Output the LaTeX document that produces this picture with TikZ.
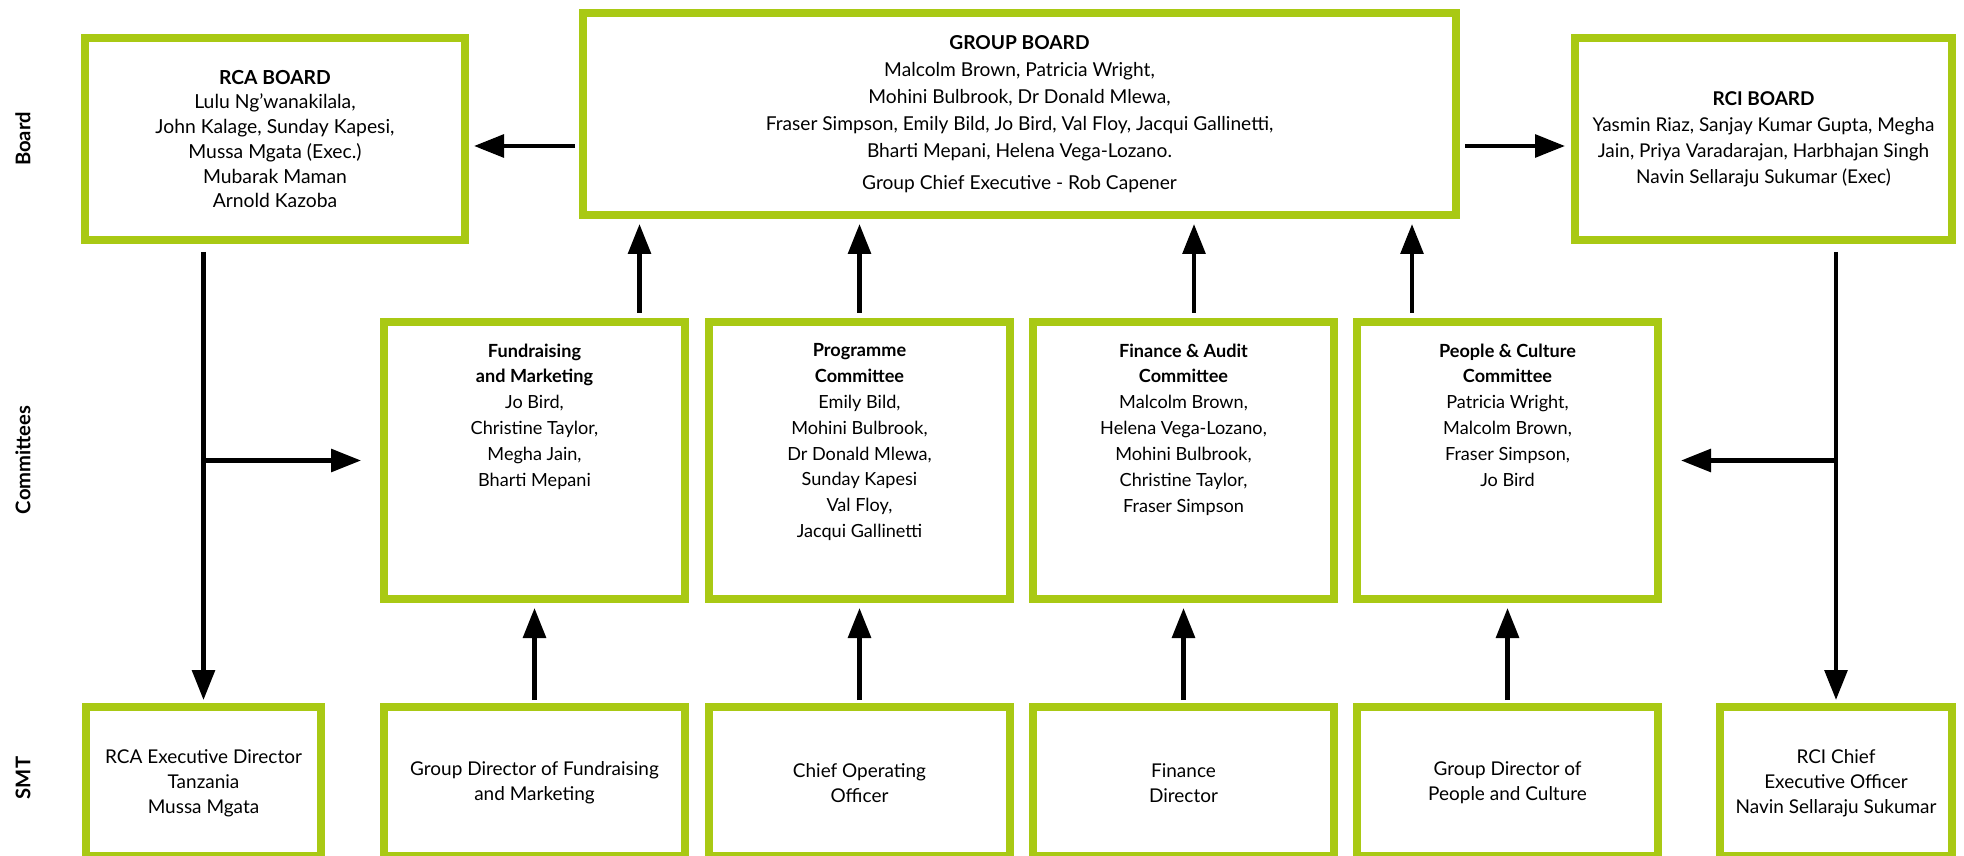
\documentclass[tikz,border=0pt]{standalone}
\usepackage{fontspec}
\setmainfont{Lato}
\usepackage{xcolor}
\usetikzlibrary{calc, arrows.meta}
\definecolor{boxgreen}{HTML}{A9C914}

\begin{document}
\begin{tikzpicture}[x=0.2mm, y=-0.2mm,
    font=\fontsize{10.8}{14.8}\selectfont,
    box node/.style={draw=boxgreen, line width=1.6mm, fill=white, inner sep=0pt, align=center},
    board node/.style={box node, minimum height=40.4mm},
    comm node/.style={box node, minimum width=60.2mm, minimum height=55.4mm},
    smt node/.style={box node, minimum width=60.2mm, minimum height=29.8mm},
    comm text/.style={anchor=north, align=center, yshift=-3.9mm, font=\fontsize{10.3}{14.7}\selectfont},
    smt text/.style={anchor=center, align=center, yshift=15.4mm, font=\fontsize{10.8}{14.2}\selectfont},
    row label/.style={rotate=90, font=\bfseries\fontsize{11.5}{13}\selectfont},
    arr/.style={line width=0.9mm, -{Triangle[length=6mm, width=4.5mm]}} ]
    \useasboundingbox (0,0) rectangle (1964,856);
    \node [row label] (lboard) at (23,139) {Board};
    \node [row label] (lcomm) at (23,460) {Committees};
    \node [row label] (lsmt) at (23,778) {SMT};
    \node [board node, minimum width=76mm, font=\fontsize{11}{14.1}\selectfont] (rca) at (275,139)
      {\textbf{RCA BOARD}\\Lulu Ng’wanakilala,\\John Kalage, Sunday Kapesi,\\Mussa Mgata (Exec.)\\Mubarak Maman\\Arnold Kazoba};
    \node [board node, minimum width=174.6mm, font=\fontsize{10.9}{15.3}\selectfont] (grp) at (1019.5,114)
      {\textbf{GROUP BOARD}\\Malcolm Brown, Patricia Wright,\\Mohini Bulbrook, Dr Donald Mlewa,\\Fraser Simpson, Emily Bild, Jo Bird, Val Floy, Jacqui Gallinetti,\\Bharti Mepani, Helena Vega-Lozano.\\[1mm]Group Chief Executive - Rob Capener};
    \node [board node, minimum width=75.4mm] (rci) at (1763.5,139)
      {\textbf{RCI BOARD}\\Yasmin Riaz, Sanjay Kumar Gupta, Megha\\Jain, Priya Varadarajan, Harbhajan Singh\\Navin Sellaraju Sukumar (Exec)};
    \node [comm node, label={[comm text]north:{\textbf{Fundraising}\\\textbf{and Marketing}\\Jo Bird,\\Christine Taylor,\\Megha Jain,\\Bharti Mepani}}] (fund) at (534.5,460.5) {};
    \node [comm node, label={[comm text]north:{\textbf{Programme}\\\textbf{Committee}\\Emily Bild,\\Mohini Bulbrook,\\Dr Donald Mlewa,\\Sunday Kapesi\\Val Floy,\\Jacqui Gallinetti}}] (prog) at (859.5,460.5) {};
    \node [comm node, label={[comm text]north:{\textbf{Finance \& Audit}\\\textbf{Committee}\\Malcolm Brown,\\Helena Vega-Lozano,\\Mohini Bulbrook,\\Christine Taylor,\\Fraser Simpson}}] (fin) at (1183.5,460.5) {};
    \node [comm node, label={[comm text]north:{\textbf{People \& Culture}\\\textbf{Committee}\\Patricia Wright,\\Malcolm Brown,\\Fraser Simpson,\\Jo Bird}}] (ppl) at (1507.5,460.5) {};
    \node [smt node, minimum width=47mm, label={[smt text]south:{RCA Executive Director\\Tanzania\\Mussa Mgata}}] (rcaexec) at (203.5,781.5) {};
    \node [smt node, label={[smt text]south:{Group Director of Fundraising\\and Marketing}}] (gdf) at (534.5,781.5) {};
    \node [smt node, label={[smt text]south:{Chief Operating\\Officer}}] (coo) at (859.5,781.5) {};
    \node [smt node, label={[smt text]south:{Finance\\Director}}] (fd) at (1183.5,781.5) {};
    \node [smt node, label={[smt text]south:{Group Director of\\People and Culture}}] (gdp) at (1507.5,781.5) {};
    \node [smt node, minimum width=46.4mm, label={[smt text]south:{RCI Chief\\Executive Officer\\Navin Sellaraju Sukumar}}] (rcichief) at (1836,781.5) {};
    \draw [arr] ($(grp.west)+(-4,32)$) to ($(rca.east)+(5,7)$);
    \draw [arr] ($(grp.east)+(5,32)$) to ($(rci.west)+(-6,7)$);
    \draw [arr] ($(fund.north)+(105,-5)$) to ($(fund.north |- grp.south)+(105,5)$);
    \draw [arr] ($(prog.north)+(0,-5)$) to ($(prog.north |- grp.south)+(0,5)$);
    \draw [arr] ($(fin.north)+(10.5,-5)$) to ($(fin.north |- grp.south)+(10.5,5)$);
    \draw [arr] ($(ppl.north)+(-95.5,-5)$) to ($(ppl.north |- grp.south)+(-95.5,5)$);
    \draw [arr] ($(gdf.north)+(0,-3)$) to ($(fund.south)+(0,5)$);
    \draw [arr] ($(coo.north)+(0,-3)$) to ($(prog.south)+(0,5)$);
    \draw [arr] ($(fd.north)+(0,-3)$) to ($(fin.south)+(0,5)$);
    \draw [arr] ($(gdp.north)+(0,-3)$) to ($(ppl.south)+(0,5)$);
    \draw [arr] ($(rcaexec.north |- rca.south)+(0,8)$) to ($(rcaexec.north)+(0,-3)$);
    \draw [arr] (rcaexec.north |- fund.west) to ($(fund.west)+(-19,0)$);
    \draw [arr] ($(rcichief.north |- rci.south)+(0,8)$) to ($(rcichief.north)+(0,-3)$);
    \draw [arr] (rcichief.north |- ppl.east) to ($(ppl.east)+(19,0)$);
\end{tikzpicture}
\end{document}
